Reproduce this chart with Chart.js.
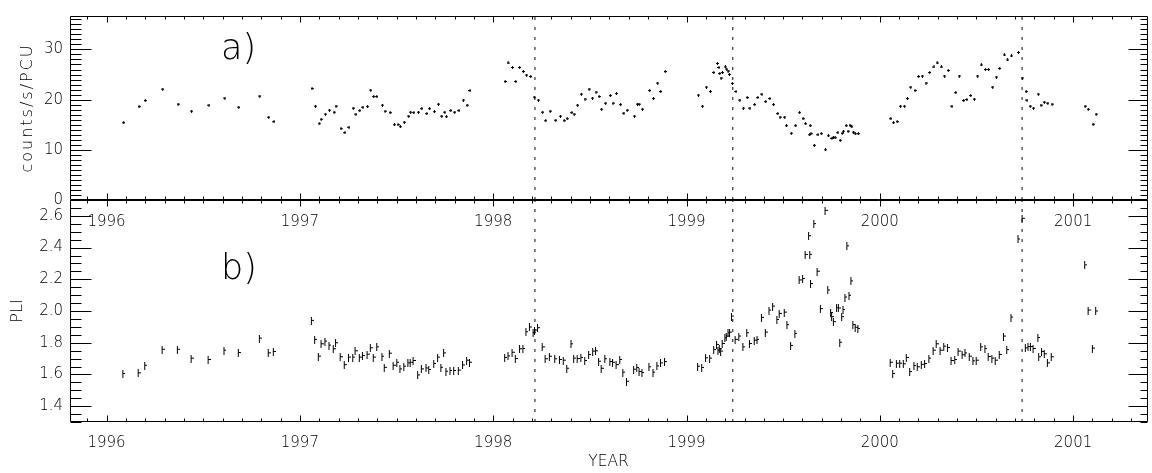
<!DOCTYPE html>
<html><head><meta charset="utf-8">
<script src="https://cdn.jsdelivr.net/npm/chart.js@4.4.0/dist/chart.umd.min.js"></script>
<style>
html,body{margin:0;padding:0;background:#fff;}
#wrap{position:relative;width:1152px;height:473px;overflow:hidden;background:#fff;}
canvas{position:absolute;left:0;top:0;}
.lab{position:absolute;font-family:'DejaVu Sans';font-weight:200;font-size:35px;line-height:35px;color:#000;}
</style></head><body>
<div id="wrap">
<canvas id="cb" width="1152" height="473"></canvas>
<canvas id="ca" width="1152" height="473"></canvas>
<div class="lab" style="left:221px;top:30px">a)</div>
<div class="lab" style="left:221px;top:250px">b)</div>
</div>
<script>
// ---------- data ----------
const yearTicks = [1996, 1997, 1998, 1999, 2000, 2001];
const countTicks = [0, 10, 20, 30];
const pliTicks = [1.4, 1.6, 1.8, 2.0, 2.2, 2.4, 2.6];
const markerYears = [1998.216, 1999.239, 2000.736];

const countYears = [1996.089,1996.168,1996.20,1996.291,1996.37,1996.44,1996.53,1996.612,1996.684,1996.793,1996.839,1996.866,
1997.063,1997.081,1997.10,1997.11,1997.132,1997.153,1997.177,1997.187,1997.213,1997.233,1997.254,1997.276,1997.29,1997.31,1997.326,1997.35,1997.367,1997.382,1997.398,1997.427,1997.441,1997.467,1997.489,1997.508,1997.52,1997.54,1997.563,1997.573,1997.59,1997.614,1997.631,1997.657,1997.671,1997.696,1997.717,1997.734,1997.75,1997.758,1997.781,1997.801,1997.823,1997.846,1997.865,1997.88,
1998.062,1998.077,1998.10,1998.117,1998.137,1998.156,1998.173,1998.194,1998.213,1998.234,1998.256,1998.272,1998.295,1998.324,1998.348,1998.367,1998.383,1998.407,1998.419,1998.437,1998.456,1998.475,1998.496,1998.514,1998.532,1998.548,1998.561,1998.582,1998.606,1998.62,1998.638,1998.659,1998.676,1998.693,1998.731,1998.746,1998.755,1998.772,1998.81,1998.829,1998.851,1998.867,1998.89,
1999.062,1999.083,1999.103,1999.124,1999.141,1999.160,1999.168,1999.172,1999.179,1999.186,1999.201,1999.208,1999.215,1999.222,1999.237,1999.256,1999.276,1999.294,1999.314,1999.328,1999.353,1999.369,1999.39,1999.41,1999.431,1999.45,1999.472,1999.484,1999.508,1999.517,1999.542,1999.565,1999.585,1999.603,1999.616,1999.637,1999.640,1999.644,1999.661,1999.680,1999.697,1999.719,1999.734,1999.752,1999.760,1999.769,1999.783,1999.795,1999.805,1999.812,1999.826,1999.836,1999.846,1999.855,1999.863,1999.873,1999.889,
2000.057,2000.071,2000.09,2000.107,2000.128,2000.143,2000.16,2000.182,2000.201,2000.22,2000.239,2000.258,2000.28,2000.297,2000.318,2000.335,2000.354,2000.373,2000.393,2000.411,2000.434,2000.45,2000.47,2000.489,2000.506,2000.525,2000.546,2000.563,2000.584,2000.603,2000.62,2000.644,2000.661,2000.681,2000.717,2000.738,2000.757,2000.761,2000.778,2000.795,2000.82,2000.834,2000.851,2000.869,2000.891,
2001.062,2001.078,2001.103,2001.119];
const countValues = [15.4,18.6,19.8,22.1,19.1,17.7,18.9,20.3,18.5,20.7,16.5,15.6,
22.2,18.7,15.2,16.1,17.1,17.9,17.5,18.7,14.2,13.4,14.5,18.3,17.1,17.8,18.5,18.6,21.9,20.6,20.6,18.9,17.7,17.4,15.0,15.0,14.6,15.5,16.7,17.5,17.4,17.5,18.2,17.2,18.2,17.6,19.1,16.7,17.5,16.6,17.8,17.5,17.8,19.9,18.9,21.8,
23.6,27.3,26.4,23.6,26.4,25.6,24.9,24.6,20.5,19.9,17.5,15.8,17.7,15.9,16.7,15.8,16.2,17.4,17.1,18.9,21.1,20.1,22.1,20.3,21.5,20.6,18.1,19.3,20.8,19.3,21.2,19.0,17.3,17.9,16.7,19.1,19.1,18.1,21.8,20.2,23.3,21.6,25.6,
20.9,18.7,22.5,21.6,25.4,27.2,26.4,25.2,24.3,25.4,26.5,26.1,25.7,25.0,23.2,21.6,19.9,18.3,20.4,18.3,19.0,20.4,21.1,19.6,20.2,19.0,17.2,16.5,16.5,14.8,13.3,14.8,17.4,16.2,15.2,13.0,14.8,13.2,10.9,13.0,13.2,10.0,12.8,12.3,12.5,12.4,13.4,11.9,13.3,13.7,14.8,13.7,14.9,14.6,13.5,13.2,13.2,
16.2,15.4,15.6,18.7,18.7,20.2,22.5,21.8,24.6,24.7,23.3,25.4,26.5,27.3,26.5,24.7,25.8,18.7,21.4,24.7,19.8,20.0,20.8,20.1,24.7,26.9,26.0,26.0,22.5,24.5,26.2,28.9,27.9,28.7,29.4,24.3,21.6,19.9,18.7,18.3,21.1,18.9,19.5,19.3,19.1,
18.7,18.1,15.1,17.1];

const pliYears = [1996.087,1996.166,1996.20,1996.29,1996.369,1996.44,1996.528,1996.61,1996.684,1996.793,1996.839,1996.865,
1997.062,1997.079,1997.098,1997.112,1997.132,1997.153,1997.175,1997.187,1997.211,1997.232,1997.254,1997.276,1997.288,1997.31,1997.326,1997.35,1997.367,1997.382,1997.40,1997.427,1997.439,1997.465,1997.485,1997.504,1997.52,1997.54,1997.561,1997.573,1997.588,1997.612,1997.631,1997.655,1997.669,1997.695,1997.715,1997.732,1997.746,1997.758,1997.779,1997.798,1997.822,1997.844,1997.865,1997.88,
1998.062,1998.079,1998.10,1998.117,1998.139,1998.156,1998.172,1998.19,1998.209,1998.216,1998.232,1998.256,1998.271,1998.293,1998.321,1998.345,1998.365,1998.383,1998.405,1998.419,1998.437,1998.456,1998.476,1998.496,1998.517,1998.532,1998.548,1998.561,1998.58,1998.606,1998.62,1998.638,1998.657,1998.673,1998.692,1998.729,1998.745,1998.757,1998.772,1998.808,1998.829,1998.849,1998.868,1998.889,
1999.06,1999.081,1999.101,1999.122,1999.143,1999.158,1999.165,1999.172,1999.179,1999.187,1999.201,1999.208,1999.217,1999.225,1999.235,1999.254,1999.273,1999.294,1999.314,1999.328,1999.353,1999.367,1999.39,1999.41,1999.429,1999.448,1999.47,1999.482,1999.508,1999.522,1999.541,1999.563,1999.585,1999.603,1999.616,1999.634,1999.64,1999.644,1999.661,1999.678,1999.695,1999.719,1999.733,1999.748,1999.753,1999.762,1999.779,1999.788,1999.795,1999.805,1999.812,1999.822,1999.832,1999.843,1999.853,1999.863,1999.875,1999.889,
2000.056,2000.069,2000.088,2000.105,2000.124,2000.139,2000.157,2000.179,2000.196,2000.217,2000.234,2000.256,2000.278,2000.294,2000.314,2000.333,2000.352,2000.371,2000.39,2000.407,2000.428,2000.443,2000.465,2000.484,2000.501,2000.524,2000.546,2000.563,2000.582,2000.599,2000.62,2000.642,2000.659,2000.681,2000.717,2000.738,2000.755,2000.769,2000.781,2000.795,2000.82,2000.824,2000.839,2000.853,2000.869,2000.889,
2001.062,2001.08,2001.102,2001.119];
const pliValues = [1.603,1.607,1.655,1.756,1.756,1.700,1.691,1.750,1.735,1.826,1.733,1.742,
1.938,1.818,1.712,1.790,1.807,1.782,1.759,1.797,1.708,1.659,1.706,1.706,1.746,1.706,1.716,1.725,1.765,1.706,1.771,1.712,1.642,1.731,1.655,1.674,1.632,1.649,1.670,1.674,1.685,1.594,1.632,1.638,1.628,1.666,1.706,1.642,1.733,1.617,1.622,1.622,1.624,1.657,1.687,1.674,
1.704,1.714,1.737,1.697,1.759,1.761,1.866,1.896,1.860,1.877,1.892,1.771,1.696,1.712,1.696,1.691,1.687,1.636,1.790,1.700,1.697,1.704,1.685,1.723,1.744,1.746,1.680,1.636,1.696,1.678,1.674,1.659,1.691,1.611,1.554,1.630,1.641,1.615,1.609,1.645,1.611,1.651,1.670,1.678,
1.649,1.641,1.702,1.700,1.754,1.786,1.750,1.759,1.744,1.792,1.828,1.839,1.860,1.864,1.965,1.818,1.839,1.771,1.860,1.792,1.813,1.818,1.957,1.864,2.003,2.028,1.944,1.982,1.990,1.911,1.780,1.856,2.193,2.202,2.354,2.472,2.354,2.170,2.548,2.248,2.012,2.632,2.130,1.987,1.961,1.930,2.018,2.016,1.800,1.961,2.007,2.085,2.408,2.096,2.187,1.911,1.894,1.887,
1.674,1.603,1.668,1.668,1.664,1.704,1.615,1.653,1.645,1.661,1.666,1.700,1.750,1.790,1.750,1.775,1.767,1.685,1.691,1.744,1.721,1.733,1.712,1.683,1.687,1.771,1.761,1.710,1.700,1.687,1.723,1.839,1.754,1.959,2.451,2.582,1.765,1.773,1.773,1.761,1.830,1.708,1.742,1.727,1.670,1.708,
2.288,2.003,1.763,1.997];

// ---------- styling helpers ----------
const FONT = {family: "'DejaVu Sans'", size: 15, weight: 200};
const TXT = '#000';
function marker(w, h, rects) {
  const c = document.createElement('canvas'); c.width = w; c.height = h;
  const g = c.getContext('2d'); g.fillStyle = '#000';
  rects.forEach(r => g.fillRect(r[0], r[1], r[2], r[3]));
  return c;
}
const dotMark = marker(3, 3, [[0,1,3,1],[1,0,1,3]]);
const barMark = marker(4, 8, [[1,0,1,8],[1,3,3,1]]);

const frameTicks = {
  id: 'frameTicks',
  afterDatasetsDraw(chart, args, o) {
    const {ctx, chartArea: a, scales: {x, y}} = chart;
    ctx.save();
    ctx.strokeStyle = '#000'; ctx.lineWidth = 1;
    ctx.beginPath();
    const seg = (x1, y1, x2, y2) => { ctx.moveTo(x1, y1); ctx.lineTo(x2, y2); };
    const L = Math.round(a.left) + 0.5, R = Math.round(a.right) + 0.5;
    const T = Math.round(a.top) + 0.5, B = Math.round(a.bottom) - 0.5;
    seg(L, T, L, B); seg(L, B, R, B); seg(L, T, R, T); seg(R, T, R, B);
    const range = (min, max, step) => { const out = []; for (let k = Math.ceil(min / step - 1e-9); k * step <= max + 1e-9; k++) out.push(k * step); return out; };
    const xt = (v, len) => { const p = Math.round(x.getPixelForValue(v)) + 0.5; seg(p, B, p, B - len); seg(p, T, p, T + len); };
    const yt = (v, lenL, lenR) => { const p = Math.round(y.getPixelForValue(v)) + 0.5; seg(L, p, L + lenL, p); seg(R, p, R - lenR, p); };
    range(x.min, x.max, o.xMinorStep).forEach(v => xt(v, o.xMinorLen));
    yearTicks.forEach(v => xt(v, o.xMajorLen));
    range(y.min, y.max, o.yMinorStep).forEach(v => yt(v, o.yMinorL, o.yMinorR));
    o.yMajor.forEach(v => yt(v, o.yMajorL, o.yMajorR));
    ctx.stroke();
    ctx.restore();
  }
};
const spacedTitle = {
  id: 'spacedTitle',
  beforeDraw(chart, args, o) {
    const s = chart.scales.y;
    if (s && !s.__sp) {
      const orig = s.drawTitle;
      s.drawTitle = function () { const c = this.ctx; c.save(); c.letterSpacing = o.spacing || '0px'; orig.call(this); c.restore(); };
      s.__sp = true;
    }
  }
};

function markerSets(ymin, ymax) {
  return markerYears.map(m => ({
    type: 'scatter', showLine: true,
    data: [{x: m, y: ymin}, {x: m, y: ymax}],
    borderColor: '#444', borderWidth: 1.3, borderDash: [3, 7],
    pointRadius: 0
  }));
}

const X_MIN = 1995.811, X_MAX = 2001.382;

function xScale(showLabels, height, pad, title) {
  return {
    type: 'linear', min: X_MIN, max: X_MAX,
    afterBuildTicks: s => { s.ticks = yearTicks.map(v => ({value: v})); },
    afterFit: s => { s.height = height; },
    grid: {display: false, drawTicks: false},
    border: {display: false},
    ticks: {display: showLabels, autoSkip: false, maxRotation: 0, padding: pad, font: FONT, color: TXT, callback: v => String(v)},
    title: title ? {display: true, text: title, font: {...FONT, size: 15.5}, color: TXT, padding: {top: 0, bottom: 2}} : {display: false}
  };
}

// ---------- top panel (a) ----------
const CMIN = 0, CMAX = 36.66;
new Chart(document.getElementById('ca'), {
  type: 'scatter',
  data: {
    datasets: [
      {data: countYears.map((v, i) => ({x: v, y: countValues[i]})), pointStyle: dotMark, pointRadius: 2, borderColor: '#000', backgroundColor: '#000'},
      ...markerSets(CMIN, CMAX)
    ]
  },
  options: {
    responsive: false, animation: false, events: [],
    layout: {padding: {top: 9, left: 0, right: 0, bottom: 243}},
    plugins: {legend: {display: false}, tooltip: {enabled: false},
      frameTicks: {xMinorStep: 0.1, xMinorLen: 3, xMajorLen: 6, yMinorStep: 1, yMajor: countTicks, yMinorL: 11, yMinorR: 7, yMajorL: 21, yMajorR: 19},
      spacedTitle: {spacing: '2px'}},
    scales: {
      x: xScale(true, 30, 13, null),
      y: {
        type: 'linear', min: CMIN, max: CMAX,
        afterBuildTicks: s => { s.ticks = countTicks.map(v => ({value: v})); },
        afterFit: s => { s.width = 70; },
        grid: {display: false, drawTicks: false}, border: {display: false},
        ticks: {padding: 7, font: FONT, color: TXT, callback: v => String(v)},
        title: {display: true, text: 'counts/s/PCU', font: {...FONT, size: 16}, color: TXT, padding: {top: 18, bottom: 0}}
      }
    }
  },
  plugins: [frameTicks, spacedTitle]
});

// ---------- bottom panel (b) ----------
const PMIN = 1.3, PMAX = 2.7;
new Chart(document.getElementById('cb'), {
  type: 'scatter',
  data: {
    datasets: [
      {data: pliYears.map((v, i) => ({x: v, y: pliValues[i]})), pointStyle: barMark, pointRadius: 2, borderColor: '#000', backgroundColor: '#000'},
      ...markerSets(PMIN, PMAX)
    ]
  },
  options: {
    responsive: false, animation: false, events: [],
    layout: {padding: {top: 200, left: 0, right: 0, bottom: 0}},
    plugins: {legend: {display: false}, tooltip: {enabled: false},
      frameTicks: {xMinorStep: 0.1, xMinorLen: 3, xMajorLen: 6, yMinorStep: 0.05, yMajor: pliTicks, yMinorL: 11, yMinorR: 7, yMajorL: 21, yMajorR: 19}},
    scales: {
      x: xScale(true, 51, 12, 'YEAR'),
      y: {
        type: 'linear', min: PMIN, max: PMAX,
        afterBuildTicks: s => { s.ticks = pliTicks.map(v => ({value: v})); },
        afterFit: s => { s.width = 70; },
        grid: {display: false, drawTicks: false}, border: {display: false},
        ticks: {padding: 7, font: FONT, color: TXT, callback: v => Number(v).toFixed(1)},
        title: {display: true, text: 'PLI', font: {...FONT, size: 16}, color: TXT, padding: {top: 8, bottom: 0}}
      }
    }
  },
  plugins: [frameTicks]
});
</script>
</body></html>
